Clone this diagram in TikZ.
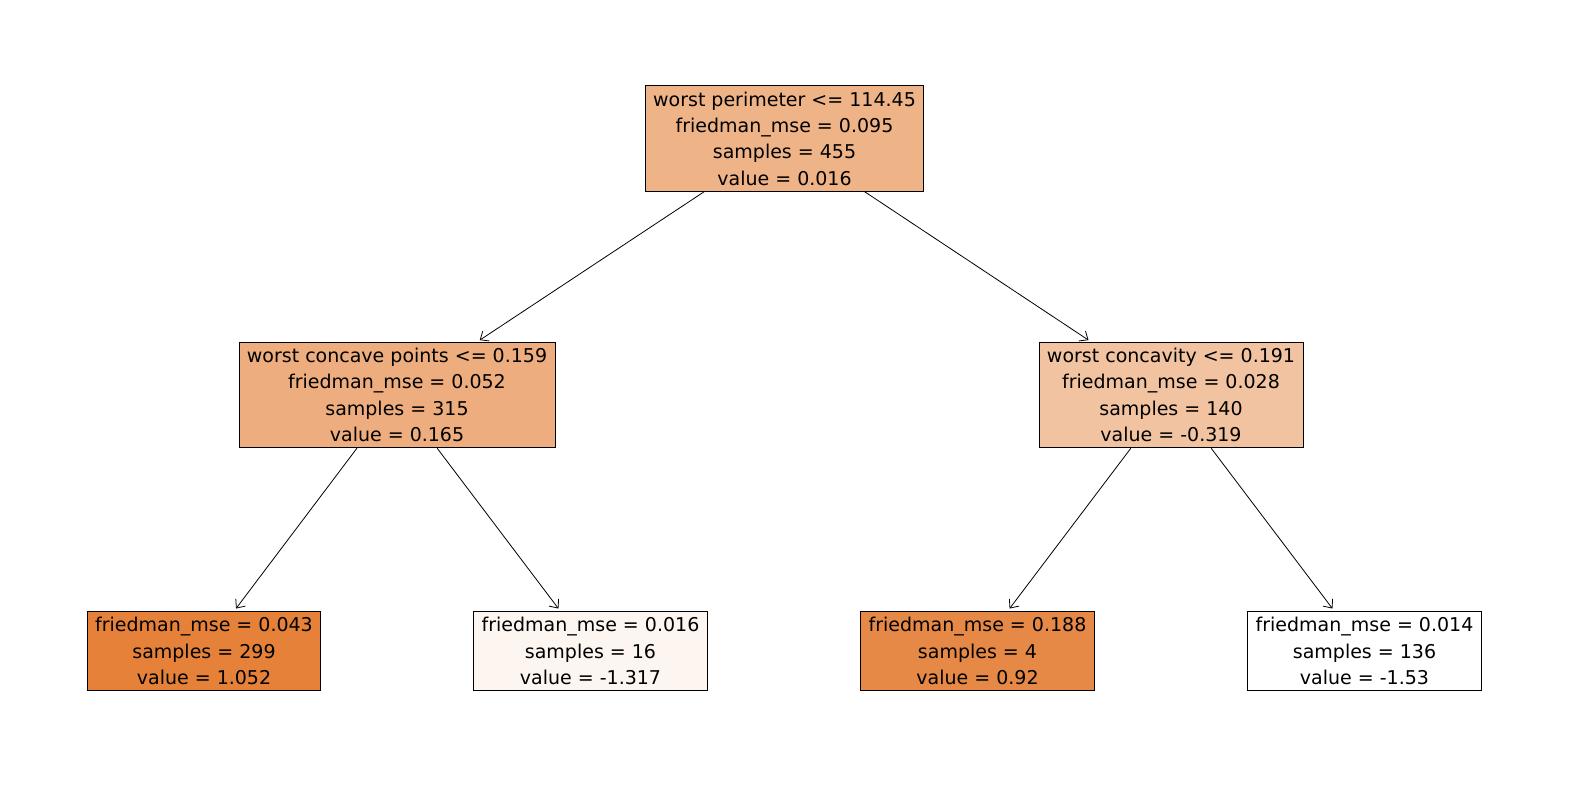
\documentclass[tikz,border=0pt]{standalone}
\usepackage{fontspec}
\setmainfont{DejaVu Sans}
\usetikzlibrary{arrows.meta}
\definecolor{cRoot}{HTML}{EFB388}
\definecolor{cL}{HTML}{EEAD7E}
\definecolor{cR}{HTML}{F2C3A0}
\definecolor{cLL}{HTML}{E58139}
\definecolor{cLR}{HTML}{FDF5F0}
\definecolor{cRL}{HTML}{E68946}
\begin{document}
\begin{tikzpicture}[x=1pt, y=-1pt,
	leaf/.style={draw, line width=0.8pt, align=center, inner xsep=8pt, inner ysep=6pt,
		font=\fontsize{19}{26.3}\selectfont},
	edge/.style={-{Straight Barb[length=7pt, width=12pt]}, line width=0.8pt, shorten >=3pt}]
	\useasboundingbox (0,0) rectangle (1570,790);
	\node[leaf, fill=cRoot] (root) at (784.5,138.5) {worst perimeter <= 114.45\\friedman\_mse = 0.095\\samples = 455\\value = 0.016};
	\node[leaf, fill=cL] (n-L) at (397,395) {worst concave points <= 0.159\\friedman\_mse = 0.052\\samples = 315\\value = 0.165};
	\node[leaf, fill=cR] (n-R) at (1171,395) {worst concavity <= 0.191\\friedman\_mse = 0.028\\samples = 140\\value = -0.319};
	\node[leaf, fill=cLL] (n-LL) at (204,651) {friedman\_mse = 0.043\\samples = 299\\value = 1.052};
	\node[leaf, fill=cLR] (n-LR) at (590.5,651) {friedman\_mse = 0.016\\samples = 16\\value = -1.317};
	\node[leaf, fill=cRL] (n-RL) at (977.5,651) {friedman\_mse = 0.188\\samples = 4\\value = 0.92};
	\node[leaf, fill=white] (n-RR) at (1364.5,651) {friedman\_mse = 0.014\\samples = 136\\value = -1.53};

	\draw[edge] (root) -- (n-L);
	\draw[edge] (root) -- (n-R);
	\draw[edge] (n-L) -- (n-LL);
	\draw[edge] (n-L) -- (n-LR);
	\draw[edge] (n-R) -- (n-RL);
	\draw[edge] (n-R) -- (n-RR);
\end{tikzpicture}
\end{document}
